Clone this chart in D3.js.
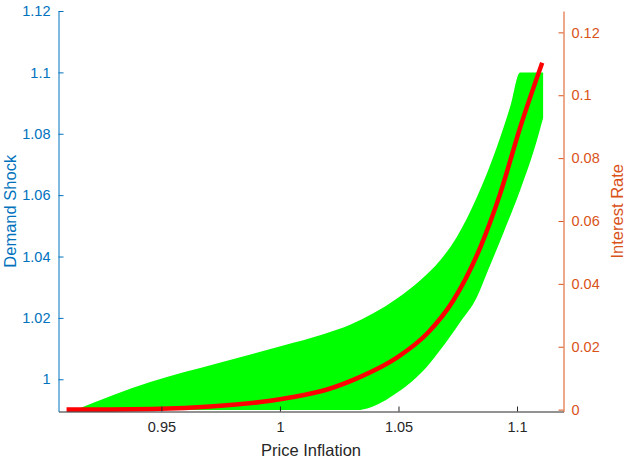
<!DOCTYPE html>
<html>
<head>
<meta charset="utf-8">
<script src="https://cdn.jsdelivr.net/npm/d3@7"></script>
<style>
  body { margin: 0; background: #fff; }
  text { font-family: "Liberation Sans", Arial, Helvetica, sans-serif; }
</style>
</head>
<body>
<div id="chart"></div>
<script>
// green band (price inflation vs demand shock): upper edge left->right, lower edge right->left
var bandUpperX = [0.9137, 0.9453, 0.9734, 1.0014, 1.0183, 1.0296, 1.0495, 1.0592, 1.0676, 1.0746, 1.0831, 1.0915, 1.0971, 1.1013, 1.1110];
var bandUpperY = [0.9900, 0.9991, 1.0051, 1.0110, 1.0147, 1.0178, 1.0264, 1.0323, 1.0388, 1.0464, 1.0594, 1.0757, 1.0888, 1.1000, 1.1000];
var bandLowerX = [1.1110, 1.1084, 1.1013, 1.0942, 1.0873, 1.0831, 1.0760, 1.0676, 1.0621, 1.0495, 1.0368, 1.0339];
var bandLowerY = [1.0851, 1.0779, 1.0616, 1.0476, 1.0346, 1.0268, 1.0186, 1.0095, 1.0042, 0.9957, 0.9905, 0.9900];

// red line (price inflation vs interest rate)
var lineX = [0.9100, 0.9495, 0.9706, 0.9917, 1.0001, 1.0056, 1.0199, 1.0339, 1.0495, 1.0621, 1.0731, 1.0845, 1.0929, 1.1013, 1.1106];
var lineRate = [0.0000, 0.0003, 0.0010, 0.0024, 0.0033, 0.0040, 0.0064, 0.0104, 0.0166, 0.0242, 0.0347, 0.0516, 0.0687, 0.0897, 0.1103];

var xTicks = [0.95, 1, 1.05, 1.1];
var xTickLabels = ['0.95', '1', '1.05', '1.1'];
var leftTicks = [1, 1.02, 1.04, 1.06, 1.08, 1.1, 1.12];
var leftTickLabels = ['1', '1.02', '1.04', '1.06', '1.08', '1.1', '1.12'];
var rightTicks = [0, 0.02, 0.04, 0.06, 0.08, 0.1, 0.12];
var rightTickLabels = ['0', '0.02', '0.04', '0.06', '0.08', '0.1', '0.12'];

var width = 625, height = 461;
var plotLeft = 58.5, plotRight = 563.5, plotTop = 11, plotBottom = 411.5;
var blue = '#0072BD', orange = '#D95319', dark = '#262626';
var tickFont = '14.5px';

var x = d3.scaleLinear().domain([0.9066, 1.1196]).range([plotLeft, plotRight]);
var yL = d3.scaleLinear().domain([0.9895, 1.12]).range([plotBottom, plotTop]);
var yR = d3.scaleLinear().domain([-0.0006, 0.1268]).range([plotBottom, plotTop]);

var svg = d3.select('#chart').append('svg')
  .attr('width', width)
  .attr('height', height);

svg.append('clipPath').attr('id', 'plotclip')
  .append('rect')
  .attr('x', plotLeft).attr('y', plotTop)
  .attr('width', plotRight - plotLeft).attr('height', plotBottom - plotTop);

// band polygon, both edges smoothed
var edge = d3.line().curve(d3.curveMonotoneX);
var upperPts = bandUpperX.map(function(v, i) { return [x(v), yL(bandUpperY[i])]; });
var lowerPts = bandLowerX.map(function(v, i) { return [x(v), yL(bandLowerY[i])]; });
var bandPath = edge(upperPts) + edge(lowerPts).replace(/^M/, 'L') + 'Z';

svg.append('path')
  .attr('clip-path', 'url(#plotclip)')
  .attr('d', bandPath)
  .attr('fill', '#00FF00')
  .attr('stroke', 'none');

var linePts = lineX.map(function(v, i) { return [x(v), yR(lineRate[i])]; });
svg.append('path')
  .attr('d', d3.line().curve(d3.curveMonotoneX)(linePts))
  .attr('fill', 'none')
  .attr('stroke', '#FF0000')
  .attr('stroke-width', 4.5);

// axes
function styleAxis(g, color) {
  g.select('.domain').attr('stroke', color);
  g.selectAll('.tick line').attr('stroke', color);
  g.selectAll('.tick text').attr('fill', color)
    .attr('font-size', tickFont)
    .attr('font-family', '"Liberation Sans", Arial, sans-serif');
}

var xAxis = svg.append('g')
  .attr('transform', 'translate(0,' + plotBottom + ')')
  .call(d3.axisBottom(x).tickValues(xTicks)
    .tickFormat(function(d, i) { return xTickLabels[i]; })
    .tickSizeInner(-5).tickSizeOuter(0).tickPadding(10));
styleAxis(xAxis, dark);

var lAxis = svg.append('g')
  .attr('transform', 'translate(' + plotLeft + ',0)')
  .call(d3.axisLeft(yL).tickValues(leftTicks)
    .tickFormat(function(d, i) { return leftTickLabels[i]; })
    .tickSizeInner(-5).tickSizeOuter(0).tickPadding(8));
styleAxis(lAxis, blue);

var rAxis = svg.append('g')
  .attr('transform', 'translate(' + plotRight + ',0)')
  .call(d3.axisRight(yR).tickValues(rightTicks)
    .tickFormat(function(d, i) { return rightTickLabels[i]; })
    .tickSizeInner(-5).tickSizeOuter(0).tickPadding(8));
styleAxis(rAxis, orange);

// labels
svg.append('text')
  .attr('x', (plotLeft + plotRight) / 2).attr('y', 456)
  .attr('text-anchor', 'middle')
  .attr('font-size', '16.5px')
  .attr('fill', dark)
  .text('Price Inflation');

svg.append('text')
  .attr('transform', 'translate(16,' + ((plotTop + plotBottom) / 2) + ') rotate(-90)')
  .attr('text-anchor', 'middle')
  .attr('font-size', '16.5px')
  .attr('fill', blue)
  .text('Demand Shock');

svg.append('text')
  .attr('transform', 'translate(623,' + ((plotTop + plotBottom) / 2) + ') rotate(-90)')
  .attr('text-anchor', 'middle')
  .attr('font-size', '16.5px')
  .attr('fill', orange)
  .text('Interest Rate');
</script>
</body>
</html>
